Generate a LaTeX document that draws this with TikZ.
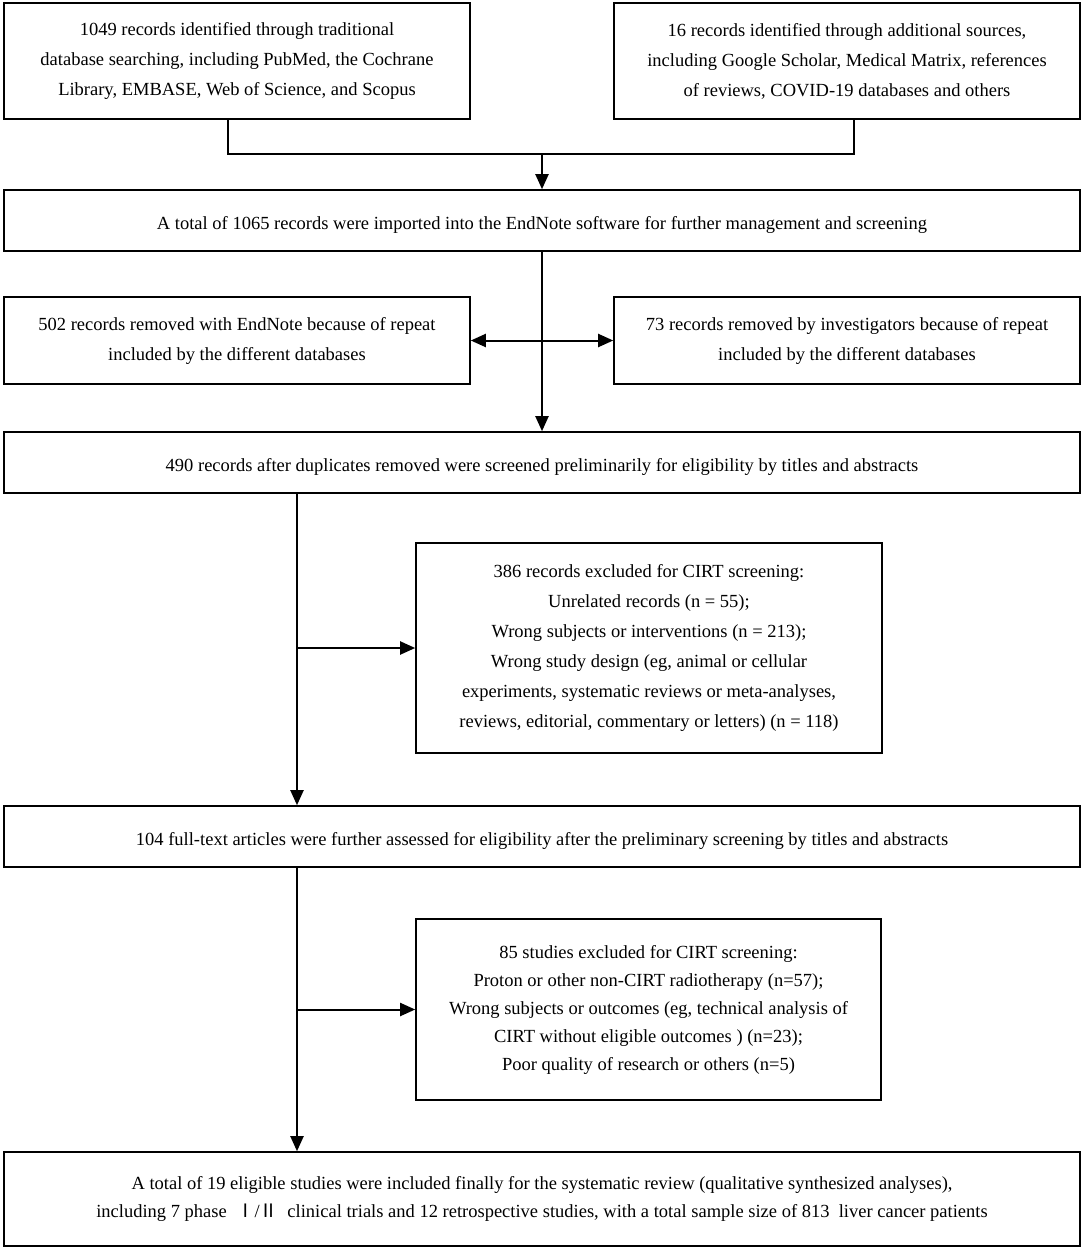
\documentclass[tikz,border=0pt]{standalone}
\usepackage{fontspec}
\setmainfont{Liberation Serif}
\newfontfamily\cjk{Noto Sans CJK SC}
\usepackage{tikz}
\usetikzlibrary{arrows.meta}

\begin{document}
\begin{tikzpicture}[x=1pt,y=-1pt]
\tikzstyle{every node}+=[inner sep=0pt]
\tikzstyle{box}=[draw=black, line width=1.6pt, align=center, font=\fontsize{18.5}{30}\selectfont, execute at begin node={\rule{0pt}{21pt}}]
\tikzstyle{wide}=[box, minimum width=1076, minimum height=61]
\tikzstyle{half}=[box, minimum width=466]
\tikzstyle{link}=[line width=2pt]
\tikzstyle{arr}=[link, -{Triangle[length=15pt,width=13pt]}]
\useasboundingbox (0,0) rectangle (1084,1250);
% identification
\node [half, minimum height=116] (database) at (237,61) {1049 records identified through traditional\\database searching, including PubMed, the Cochrane\\Library, EMBASE, Web of Science, and Scopus};
\node [half, minimum height=116] (additional) at (847,61) {16 records identified through additional sources,\\including Google Scholar, Medical Matrix, references\\of reviews, COVID-19 databases and others};
\node [wide] (imported) at (542,220.5) {A total of 1065 records were imported into the EndNote software for further management and screening};
% duplicates
\node [half, minimum height=87] (endnote) at (237,340.5) {502 records removed with EndNote because of repeat\\included by the different databases};
\node [half, minimum height=87] (investigators) at (847,340.5) {73 records removed by investigators because of repeat\\included by the different databases};
\node [wide] (screened) at (542,462.5) {490 records after duplicates removed were screened preliminarily for eligibility by titles and abstracts};
% screening
\node [half, minimum height=210] (excluded) at (649,648) {386 records excluded for CIRT screening:\\Unrelated records (n = 55);\\Wrong subjects or interventions (n = 213);\\Wrong study design (eg, animal or cellular\\experiments, systematic reviews or meta-analyses,\\reviews, editorial, commentary or letters) (n = 118)};
\node [wide] (fulltext) at (542,836.5) {104 full-text articles were further assessed for eligibility after the preliminary screening by titles and abstracts};
% eligibility
\node [half, minimum width=465, minimum height=181, font=\fontsize{18.5}{28}\selectfont] (removed) at (648.5,1009.5) {85 studies excluded for CIRT screening:\\Proton or other non-CIRT radiotherapy (n=57);\\Wrong subjects or outcomes (eg, technical analysis of\\CIRT without eligible outcomes ) (n=23);\\Poor quality of research or others (n=5)};
% included
\node [wide, minimum height=94, font=\fontsize{18.5}{28}\selectfont] (included) at (542,1199) {A total of 19 eligible studies were included finally for the systematic review (qualitative synthesized analyses),\\including 7 phase \ {\cjk Ⅰ}/{\cjk Ⅱ} \ clinical trials and 12 retrospective studies, with a total sample size of 813 \ liver cancer patients};
% connectors
\coordinate (mergeL) at (228,154);
\coordinate (mergeR) at (854,154);
\coordinate (mergeM) at (542,154);
\coordinate (trunk) at (297,0);
\draw [link] (database.south -| mergeL) -- (mergeL) -- (mergeR) -- (additional.south -| mergeR);
\draw [arr] (mergeM) -- (imported.north);
\draw [arr] (imported.south) -- (screened.north);
\draw [link, {Triangle[length=15pt,width=13pt]}-{Triangle[length=15pt,width=13pt]}] (endnote.east) -- (investigators.west);
\draw [arr] (screened.south -| trunk) -- (fulltext.north -| trunk);
\draw [arr] (excluded.west -| trunk) -- (excluded.west);
\draw [arr] (fulltext.south -| trunk) -- (included.north -| trunk);
\draw [arr] (removed.west -| trunk) -- (removed.west);
\end{tikzpicture}
\end{document}
